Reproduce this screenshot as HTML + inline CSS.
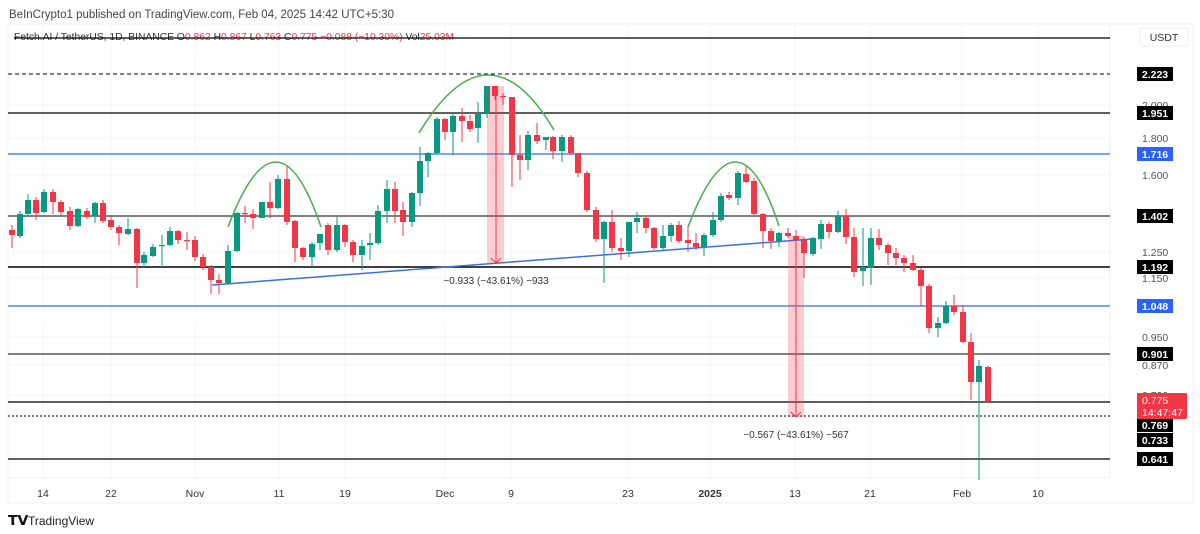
<!DOCTYPE html>
<html><head><meta charset="utf-8">
<style>
html,body{margin:0;padding:0;background:#fff;width:1200px;height:534px;overflow:hidden;font-family:"Liberation Sans",sans-serif}
svg{position:absolute;left:0;top:0}
</style></head><body>
<svg id="s" width="1200" height="534" xmlns="http://www.w3.org/2000/svg" font-family="Liberation Sans, sans-serif">
<text x="9" y="18" font-size="11.5" fill="#444">BeInCrypto1 published on TradingView.com, Feb 04, 2025 14:42 UTC+5:30</text>
<rect x="8" y="24" width="1185" height="479" fill="none" stroke="#eef0f3"/>
<line x1="1110" y1="24" x2="1110" y2="478" stroke="#eef0f3"/>
<line x1="8" y1="478" x2="1110" y2="478" stroke="#eef0f3"/>
<g id="grid" stroke="#f4f5f7"></g>
<g id="hl"></g>
<g id="cd"></g>
<g id="ov"></g>
<text x="14" y="40" font-size="10.3" fill="#333">Fetch.AI / TetherUS, 1D, BINANCE  O<tspan fill="#f23645">0.862</tspan>  H<tspan fill="#f23645">0.867</tspan>  L<tspan fill="#f23645">0.763</tspan>  C<tspan fill="#f23645">0.775</tspan>  <tspan fill="#f23645">−0.088 (−10.30%)</tspan>  Vol<tspan fill="#f23645">25.03M</tspan></text>
<line x1="14" y1="38" x2="1110" y2="38" stroke="#000" stroke-width="1.2"/>
<rect x="1140" y="28" width="48" height="18" rx="3" fill="#fff" stroke="#eee"/>
<text x="1164" y="41" font-size="10.5" fill="#333" text-anchor="middle">USDT</text>
<g id="ax" font-size="10.5" fill="#555"></g>
<g id="xl" font-size="10.5" fill="#333" text-anchor="middle"></g>
<text x="8" y="525" font-size="14" font-weight="bold" fill="#111">𝗧𝗩</text>
<text x="28" y="525" font-size="12" fill="#222">TradingView</text>
</svg>
<script>
const NS="http://www.w3.org/2000/svg";
function el(p,t,a,txt){const e=document.createElementNS(NS,t);for(const k in a)e.setAttribute(k,a[k]);if(txt!==undefined)e.textContent=txt;document.getElementById(p).appendChild(e);return e;}
const xs=[[43,"14"],[111,"22"],[195,"Nov"],[279,"11"],[345,"19"],[445,"Dec"],[511,"9"],[628,"23"],[710,"2025"],[795,"13"],[870,"21"],[962,"Feb"],[1038,"10"]];
xs.forEach(([x,t])=>{el("grid","line",{x1:x,y1:24,x2:x,y2:478});const e=el("xl","text",{x:x,y:497},t);if(t=="2025")e.setAttribute("font-weight","bold");});
[105,138,175,252,278,337,365,395].forEach(y=>el("grid","line",{x1:8,y1:y,x2:1110,y2:y}));
const H=[[74,"#000","4,3",1],[113,"#000","",1.3],[154,"#2e6ef0","",1.3],[216,"#000","",1],[267,"#000","",1.6],[306,"#2e6ef0","",1.3],[354,"#000","",1],[402,"#000","",1.3],[416,"#000","2,2",1],[459,"#000","",1.3]];
H.forEach(([y,c,d,w])=>{const a={x1:8,y1:y,x2:1110,y2:y,stroke:c,"stroke-width":w};if(d)a["stroke-dasharray"]=d;el("hl","line",a);});
[[105,"2.000"],[138,"1.800"],[175,"1.600"],[252,"1.250"],[278,"1.150"],[337,"0.950"],[365,"0.870"],[395,"0.790"]].forEach(([y,t])=>el("ax","text",{x:1142,y:y+4},t));
[[74,"2.223","#000"],[113,"1.951","#000"],[154,"1.716","#2962ff"],[216,"1.402","#000"],[267,"1.192","#000"],[306,"1.048","#2962ff"],[354,"0.901","#000"],[425,"0.769","#000"],[440,"0.733","#000"],[459,"0.641","#000"]].forEach(([y,t,c])=>{
 el("ax","rect",{x:1137,y:y-7,width:36,height:14,fill:c});
 el("ax","text",{x:1155,y:y+4,fill:"#fff","text-anchor":"middle","font-weight":"bold"},t);});
el("ax","rect",{x:1137,y:393,width:50,height:26,fill:"#f23645",rx:1});
el("ax","text",{x:1142,y:404,fill:"#fff"},"0.775");
el("ax","text",{x:1142,y:416,fill:"#fff"},"14:47:47");
const C=[[12,230,235,225,248],[20,236,214,211,238],[28,214,200,194,217],[36,200,213,197,220],[44,212,192,189,213],[53,192,202,189,214],[61,202,212,200,215],[70,211,226,207,230],[78,226,209,208,227],[87,211,217,208,219],[95,216,203,202,223],[103,203,221,200,223],[111,220,227,215,230],[119,227,233,225,245],[128,234,229,218,235],[137,229,263,228,288],[144,263,255,252,268],[153,256,247,244,257],[162,246,245,235,268],[170,245,231,227,246],[178,231,240,230,244],[187,240,241,232,250],[195,240,257,236,261],[203,257,267,254,270],[211,267,280,265,294],[219,280,283,274,294],[228,283,251,245,285],[237,251,213,212,252],[245,213,214,206,223],[253,214,218,209,229],[262,218,202,202,218],[270,202,208,182,218],[278,208,179,175,209],[287,179,222,166,225],[295,221,248,220,262],[303,248,257,247,260],[312,257,244,242,267],[320,243,234,234,250],[328,225,250,223,255],[337,250,225,217,252],[345,225,242,224,247],[353,242,255,240,262],[362,255,246,240,270],[370,245,243,233,260],[378,243,211,205,245],[387,211,189,180,223],[395,189,211,182,223],[403,210,222,202,236],[412,222,193,192,227],[420,193,161,147,206],[428,161,153,152,177],[437,153,119,117,154],[445,119,132,118,140],[453,132,116,113,155],[462,116,121,108,142],[470,121,129,115,132],[478,128,113,102,143],[487,113,86,86,118],[495,86,96,86,100],[503,96,97,93,105],[512,97,155,97,187],[520,155,160,135,180],[528,160,135,131,170],[537,135,141,123,144],[546,140,137,137,150],[553,137,151,136,159],[562,151,137,135,162],[571,137,153,135,155],[578,153,173,153,177],[587,173,210,171,212],[596,210,239,207,242],[604,239,222,221,283],[612,222,248,210,252],[621,248,251,238,260],[629,251,222,222,257],[637,222,218,212,233],[646,218,228,216,233],[654,228,248,227,250],[663,248,236,225,250],[671,236,225,223,242],[679,225,241,221,243],[688,240,243,227,252],[696,243,247,233,250],[704,247,235,233,256],[713,235,220,212,237],[721,220,196,193,222],[729,195,198,192,200],[738,198,173,171,205],[746,174,182,165,183],[754,181,214,178,215],[763,214,231,213,248],[771,231,241,228,249],[779,241,233,232,247],[788,233,236,228,238],[796,236,240,230,242],[804,240,253,237,278],[813,254,238,237,256],[821,239,224,220,249],[829,224,232,222,238],[838,232,216,211,233],[846,216,237,209,244],[854,237,272,228,277],[863,271,267,228,286],[871,268,238,228,285],[879,238,245,229,250],[888,245,253,243,265],[896,253,258,248,265],[904,258,263,255,272],[913,263,270,255,271],[921,270,286,268,306],[929,286,328,284,333],[938,328,323,317,337],[946,323,306,301,324],[954,306,312,295,315],[963,312,342,305,343],[971,342,382,333,400],[979,382,366,360,480],[988,367,401,366,403]];
C.forEach(([x,o,c,h,l])=>{const up=c<o;const col=up?"#089981":"#f23645";
 el("cd","line",{x1:x,y1:h,x2:x,y2:l,stroke:col,"stroke-width":1});
 el("cd","rect",{x:x-3,y:Math.min(o,c),width:6,height:Math.max(1.2,Math.abs(o-c)),fill:col});});
el("ov","line",{x1:212,y1:285,x2:812,y2:239,stroke:"#3b6fe0","stroke-width":1.5});
[[228,227,277,162,321,227],[419,133,488,75,554,130],[688,227,737,162,779,226]].forEach(([a,b,p,q,c,d])=>{
 el("ov","path",{d:`M${a} ${b} Q${p} ${2*q-(b+d)/2} ${c} ${d}`,fill:"none",stroke:"#4caf50","stroke-width":1.6});});
el("ov","rect",{x:487,y:86,width:17,height:177,fill:"rgba(242,54,69,0.25)"});
el("ov","line",{x1:496,y1:86,x2:496,y2:263,stroke:"#f23645","stroke-width":1});
el("ov","path",{d:"M491 258 L496 263 L501 258",fill:"none",stroke:"#f23645"});
el("ov","text",{x:496,y:284,"font-size":"10","text-anchor":"middle",fill:"#333"},"−0.933 (−43.61%) −933");
el("ov","rect",{x:788,y:236,width:16,height:181,fill:"rgba(242,54,69,0.25)"});
el("ov","line",{x1:796,y1:236,x2:796,y2:417,stroke:"#f23645","stroke-width":1});
el("ov","path",{d:"M791 412 L796 417 L801 412",fill:"none",stroke:"#f23645"});
el("ov","text",{x:796,y:438,"font-size":"10","text-anchor":"middle",fill:"#333"},"−0.567 (−43.61%) −567");
</script>
</body></html>
